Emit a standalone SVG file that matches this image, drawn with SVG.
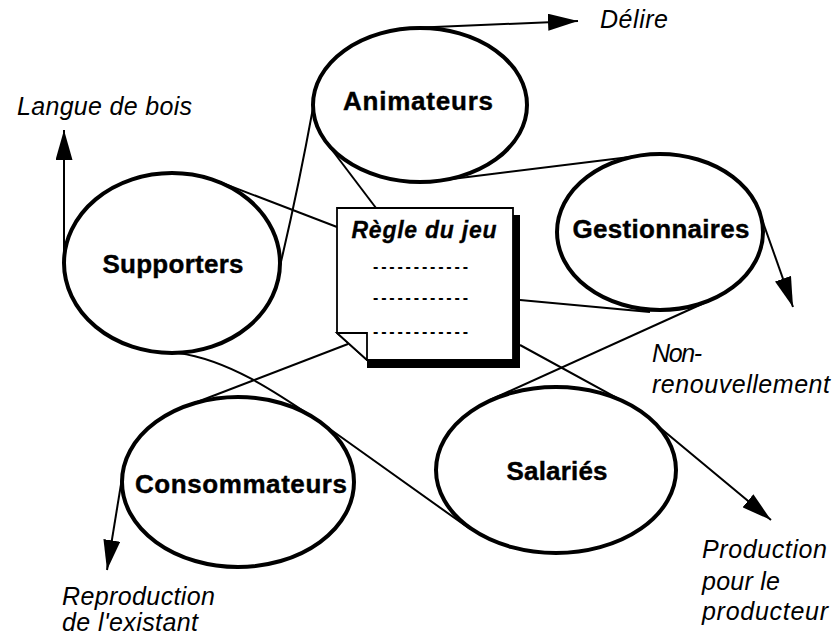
<svg xmlns="http://www.w3.org/2000/svg" width="834" height="640" viewBox="0 0 834 640">
  <style>
    .node { fill: #ffffff; stroke: #000000; stroke-width: 4; }
    .conn { fill: none; stroke: #000000; stroke-width: 2; }
    .arrow { marker-end: url(#head); }
    .label { font-family: "Liberation Sans", Arial, sans-serif; font-weight: bold; font-size: 26px; fill: #000000; stroke: #000000; stroke-width: 0.4; text-anchor: middle; }
    .note { font-family: "Liberation Sans", Arial, sans-serif; font-style: italic; font-size: 25px; fill: #000000; }
    .title { font-family: "Liberation Sans", Arial, sans-serif; font-style: italic; font-weight: bold; font-size: 23px; fill: #000000; stroke: #000000; stroke-width: 0.3; text-anchor: middle; }
    .dash { font-family: "Liberation Sans", Arial, sans-serif; font-weight: bold; font-size: 16px; fill: #000000; }
    .page { fill: #ffffff; stroke: #000000; stroke-width: 1.8; stroke-linejoin: miter; }
  </style>
  <defs>
    <marker id="head" markerUnits="userSpaceOnUse" markerWidth="30" markerHeight="17" refX="30" refY="8.5" orient="auto">
      <path d="M0,0 L30,8.5 L0,17 Z" fill="#000000"/>
    </marker>
  </defs>

  <rect width="834" height="640" fill="#ffffff"/>

  <!-- connectors -->
  <g id="connectors">
    <path class="conn arrow" d="M411,28 L578,21"/>
    <path class="conn arrow" d="M64,263 L64,130"/>
    <path class="conn" d="M313,108 Q298,190 280,266"/>
    <path class="conn" d="M217,181 L337,227"/>
    <path class="conn" d="M326,142 L376,208"/>
    <path class="conn" d="M436,181 L646,155"/>
    <path class="conn arrow" d="M759,211 L793,307"/>
    <path class="conn" d="M520,300 L650,312"/>
    <path class="conn" d="M713,299 L490,400"/>
    <path class="conn arrow" d="M520,345 L630,405 A120,83 0 0,1 647,417 L771,520"/>
    <path class="conn" d="M348,344 L184,407"/>
    <path class="conn" d="M178,353 C230,360 280,395 320,422 L470,529"/>
    <path class="conn arrow" d="M123,472 L107,570"/>
  </g>

  <!-- actors -->
  <g id="animateurs">
    <ellipse class="node" cx="420" cy="105" rx="107" ry="77"/>
    <text class="label" x="418" y="110" textLength="150">Animateurs</text>
  </g>
  <g id="supporters">
    <ellipse class="node" cx="172" cy="263" rx="108" ry="90"/>
    <text class="label" x="173" y="273" textLength="141">Supporters</text>
  </g>
  <g id="gestionnaires">
    <ellipse class="node" cx="660" cy="232" rx="103" ry="78"/>
    <text class="label" x="661" y="238" textLength="177">Gestionnaires</text>
  </g>
  <g id="consommateurs">
    <ellipse class="node" cx="238" cy="482" rx="116" ry="85"/>
    <text class="label" x="241" y="493" textLength="212">Consommateurs</text>
  </g>
  <g id="salaries">
    <ellipse class="node" cx="556" cy="470" rx="120" ry="83"/>
    <text class="label" x="557" y="480" textLength="101">Salariés</text>
  </g>

  <!-- rule sheet with folded corner and drop shadow -->
  <g id="regle">
    <rect x="513" y="215" width="7" height="153" fill="#000000"/>
    <rect x="367" y="360" width="153" height="8" fill="#000000"/>
    <path class="page" d="M337,208 H513 V360 H367 L337,333 Z"/>
    <path class="page" d="M337,333 H367 V360 Z"/>
    <text class="title" x="424" y="238" textLength="145">Règle du jeu</text>
    <text class="dash" x="373" y="272" textLength="95">------------</text>
    <text class="dash" x="373" y="303" textLength="95">------------</text>
    <text class="dash" x="373" y="337" textLength="95">------------</text>
  </g>

  <!-- outcome labels -->
  <g id="outcomes">
    <text class="note" x="600" y="28" textLength="68">Délire</text>
    <text class="note" x="17" y="115" textLength="175">Langue de bois</text>
    <text class="note" x="652" y="362" textLength="50">Non-</text>
    <text class="note" x="652" y="393" textLength="178">renouvellement</text>
    <text class="note" x="702" y="558" textLength="125">Production</text>
    <text class="note" x="702" y="590" textLength="78">pour le</text>
    <text class="note" x="702" y="620" textLength="126">producteur</text>
    <text class="note" x="62" y="605" textLength="153">Reproduction</text>
    <text class="note" x="62" y="631" textLength="136">de l'existant</text>
  </g>
</svg>
